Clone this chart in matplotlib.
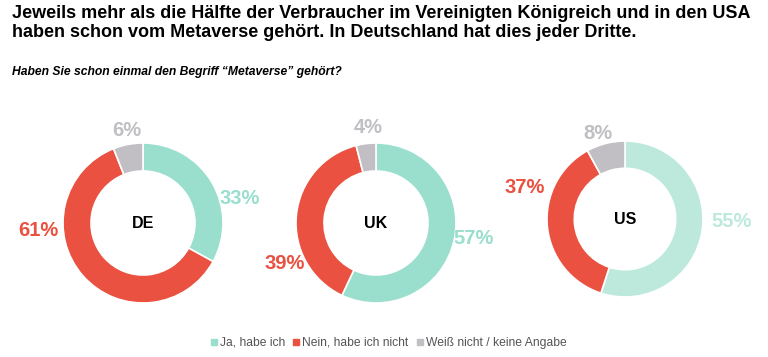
import matplotlib.pyplot as plt

# data
countries = ["DE", "UK", "US"]
categories = ["Ja, habe ich", "Nein, habe ich nicht", "Weiß nicht / keine Angabe"]
ja = [33, 57, 55]
nein = [61, 39, 37]
weiss = [6, 4, 8]

# style
W, H = 768, 357
red = "#ea5140"
grey = "#c1bfc3"
teal = ["#9adecd", "#9adecd", "#bde9dd"]
centers = [(143, 223), (376, 223), (625, 219)]
radii = [80, 80, 78]
# label offsets (in units of outer radius) for ja, nein, weiss
label_pos = [
    [(1.21, 0.30), (-1.31, -0.09), (-0.20, 1.16)],
    [(1.22, -0.19), (-1.14, -0.51), (-0.10, 1.19)],
    [(1.36, -0.03), (-1.28, 0.40), (-0.35, 1.10)],
]

plt.rcParams["font.family"] = ["Liberation Sans", "DejaVu Sans"]
fig = plt.figure(figsize=(W / 100, H / 100), dpi=100)
fig.patch.set_facecolor("white")

fig.text(12 / W, 1 - 5 / H,
         "Jeweils mehr als die Hälfte der Verbraucher im Vereinigten Königreich und in den USA\n"
         "haben schon vom Metaverse gehört. In Deutschland hat dies jeder Dritte.",
         family=["Liberation Sans Narrow", "Liberation Sans"], weight="bold",
         fontsize=13, va="top", ha="left", linespacing=1.12, color="black")
fig.text(12 / W, 1 - 72 / H, "Haben Sie schon einmal den Begriff \u201cMetaverse\u201d gehört?",
         family=["Liberation Sans Narrow", "Liberation Sans"], weight="bold", style="italic",
         fontsize=8.7, va="center", ha="left", color="black")

half = 100
for i, c in enumerate(countries):
    cx, cy = centers[i]
    ax = fig.add_axes([(cx - half) / W, 1 - (cy + half) / H, 2 * half / W, 2 * half / H])
    ax.set_xlim(-1.25, 1.25)
    ax.set_ylim(-1.25, 1.25)
    ax.set_aspect("equal")
    ax.axis("off")
    r = radii[i] / 80
    vals = [ja[i], nein[i], weiss[i]]
    cols = [teal[i], red, grey]
    ax.pie(vals, colors=cols, startangle=90, counterclock=False, radius=r,
           wedgeprops=dict(width=0.35 * r, edgecolor="white", linewidth=1.2))
    ax.text(0, 0, c, ha="center", va="center", fontsize=11.5, weight="bold", color="black")
    for v, col, (lx, ly) in zip(vals, cols, label_pos[i]):
        ax.text(lx * r, ly * r, f"{v}%", ha="center", va="center",
                fontsize=14.5, weight="bold", color=col)

# legend
leg_ax = fig.add_axes([0, 0, 1, 0.12])
leg_ax.axis("off")
handles = [plt.Line2D([], [], marker="s", linestyle="", markersize=5, color=col)
           for col in [teal[0], red, grey]]
leg_ax.legend(handles, categories, loc="center", bbox_to_anchor=(0.505, 0.33), ncol=3,
              frameon=False, fontsize=8.7, handletextpad=0.1, columnspacing=0.5,
              handlelength=0.8, labelcolor="#555555")

fig.savefig("out.png", dpi=100, facecolor="white")
